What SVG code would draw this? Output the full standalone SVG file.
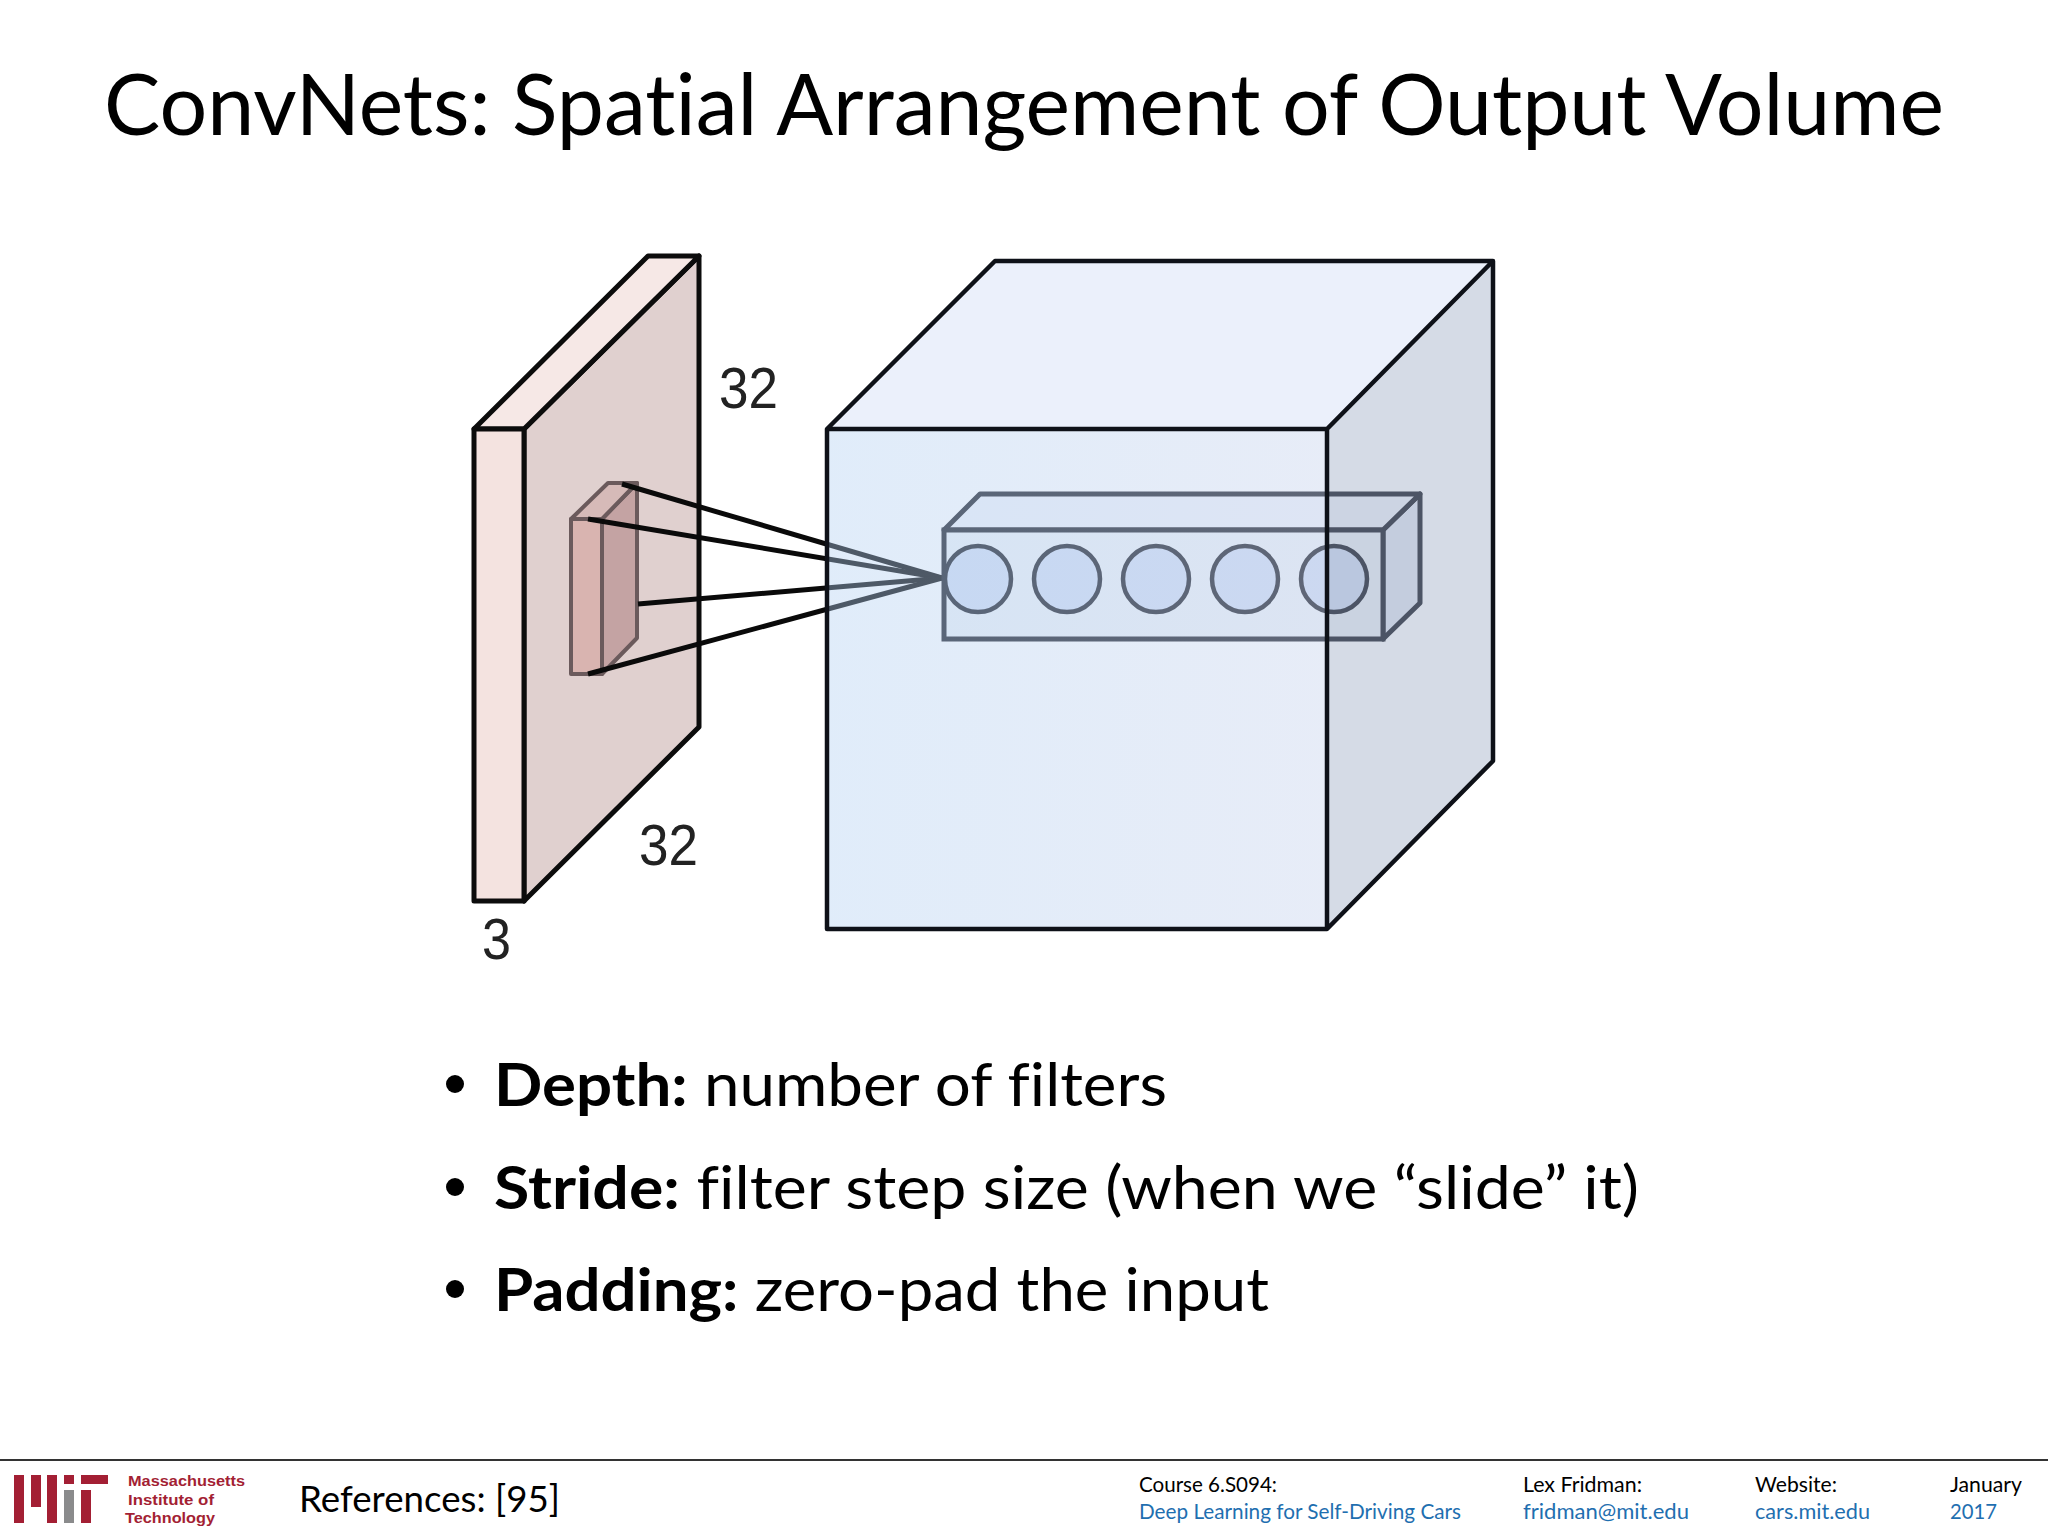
<svg xmlns="http://www.w3.org/2000/svg" width="2048" height="1536" viewBox="0 0 2048 1536">
<style>
.cal{font-family:"Lato","Open Sans",sans-serif;fill:#000;font-variant-ligatures:none}
.num{font-family:"Liberation Sans",Arial,sans-serif;font-size:58px;fill:#222}
.edge{stroke:#0c0c0c;stroke-width:5;stroke-linejoin:round}
.pr{stroke:#6b5a5c;stroke-width:4;stroke-linejoin:round}
.bul{font-size:60px}
.foot{font-size:21.5px}
.blue{fill:#1f6fb0}
.mit{font-family:"Liberation Sans",Arial,sans-serif;font-weight:700;font-size:15.5px;fill:#a31f34}
.logo{fill:#a31f34}
</style>
<defs>
<linearGradient id="frontFill" x1="0" y1="0" x2="1" y2="0">
<stop offset="0" stop-color="rgb(178,208,242)"/>
<stop offset="1" stop-color="rgb(195,208,236)"/>
</linearGradient>
</defs>
<rect width="2048" height="1536" fill="#fff"/>
<text id="title" class="cal" x="104" y="135" font-size="86" textLength="1840" lengthAdjust="spacingAndGlyphs">ConvNets: Spatial Arrangement of Output Volume</text>

<g id="input-volume">
<polygon points="524,429 699,256 699,727 524,901" fill="#e0d0cf" class="edge"/>
<polygon points="474,429 648,256 699,256 524,429" fill="#f6e8e6" class="edge"/>
<rect x="474" y="429" width="50" height="472" fill="#f4e3e0" class="edge"/>
</g>
<g id="receptive-field">
<polygon points="602,519 637,483 637,638 602,674" fill="#c4a3a3" class="pr"/>
<polygon points="571,519 608,483 637,483 602,519" fill="#d6bab8" class="pr"/>
<rect x="571" y="519" width="31" height="155" fill="#d9b4b0" class="pr"/>
</g>
<g id="connectors" fill="none" stroke="#0a0a0a" stroke-width="5">
<line x1="622" y1="484" x2="942" y2="578"/>
<line x1="588" y1="519" x2="942" y2="578"/>
<line x1="638" y1="604" x2="942" y2="578"/>
<line x1="588" y1="674" x2="942" y2="578"/>
</g>
<g id="neuron-column">
<polygon points="1383,530 1420,494 1420,603 1383,639" fill="#e3e8f2" stroke="#1c1f28" stroke-width="5" stroke-linejoin="round"/>
<polygon points="944,530 980,494 1420,494 1383,530" fill="#f0f3fa" stroke="#1c1f28" stroke-width="5" stroke-linejoin="round"/>
<rect x="944" y="530" width="439" height="109" fill="#edf2f7" stroke="#1c1f28" stroke-width="5"/>
<g fill="#d2def4" stroke="#1c1f28" stroke-width="4.5">
<circle id="n1" cx="978" cy="579" r="33"/>
<circle id="n2" cx="1067" cy="579" r="33"/>
<circle id="n3" cx="1156" cy="579" r="33"/>
<circle id="n4" cx="1245" cy="579" r="33"/>
<circle id="n5" cx="1334" cy="579" r="33"/>
</g>
</g>
<g id="output-volume">
<polygon points="827,429 995,261 1493,261 1327,429" fill="rgb(205,217,245)" fill-opacity=".4"/>
<polygon points="1327,429 1493,261 1493,761 1327,929" fill="rgb(150,165,192)" fill-opacity=".4"/>
<rect x="827" y="429" width="500" height="500" fill="url(#frontFill)" fill-opacity=".4"/>
<path d="M827,429 L995,261 H1493 V761 L1327,929 H827 Z M827,429 H1327 V929 M1327,429 L1493,261" fill="none" stroke="#0e1118" stroke-width="4.5" stroke-linejoin="round"/>
</g>
<g id="dimension-labels">
<text class="num" x="719" y="408" textLength="59" lengthAdjust="spacingAndGlyphs">32</text>
<text class="num" x="639" y="865" textLength="59" lengthAdjust="spacingAndGlyphs">32</text>
<text class="num" x="482" y="959" textLength="29" lengthAdjust="spacingAndGlyphs">3</text>
</g>
<g id="bullets">
<circle cx="455" cy="1084" r="9" fill="#000"/>
<circle cx="455" cy="1187" r="9" fill="#000"/>
<circle cx="455" cy="1289" r="9" fill="#000"/>
<text class="cal bul" x="494" y="1106" textLength="673" lengthAdjust="spacingAndGlyphs"><tspan font-weight="700">Depth:</tspan> number of filters</text>
<text class="cal bul" x="494" y="1209" textLength="1145" lengthAdjust="spacingAndGlyphs"><tspan font-weight="700">Stride:</tspan> filter step size (when we “slide” it)</text>
<text class="cal bul" x="494" y="1311" textLength="775" lengthAdjust="spacingAndGlyphs"><tspan font-weight="700">Padding:</tspan> zero-pad the input</text>
</g>
<g id="footer">
<line x1="0" y1="1460" x2="2048" y2="1460" stroke="#333" stroke-width="2"/>
<g class="logo">
<rect x="14" y="1475" width="10" height="48"/>
<rect x="31" y="1475" width="10" height="32"/>
<rect x="47" y="1475" width="10" height="48"/>
<rect x="64" y="1475" width="10" height="9"/>
<rect x="64" y="1490" width="10" height="33" fill="#8a8b8c"/>
<rect x="81" y="1475" width="27" height="9"/>
<rect x="81" y="1490" width="10" height="33"/>
</g>
<text class="mit" x="128" y="1486" textLength="117" lengthAdjust="spacingAndGlyphs">Massachusetts</text>
<text class="mit" x="128" y="1505" textLength="86" lengthAdjust="spacingAndGlyphs">Institute of</text>
<text class="mit" x="125" y="1523" textLength="90" lengthAdjust="spacingAndGlyphs">Technology</text>
<text class="cal" x="299" y="1512" font-size="37" textLength="261" lengthAdjust="spacingAndGlyphs">References: [95]</text>
<text class="cal foot" x="1139" y="1492" textLength="138" lengthAdjust="spacingAndGlyphs">Course 6.S094:</text>
<text class="cal foot blue" x="1139" y="1519" textLength="322" lengthAdjust="spacingAndGlyphs">Deep Learning for Self-Driving Cars</text>
<text class="cal foot" x="1523" y="1492" textLength="119" lengthAdjust="spacingAndGlyphs">Lex Fridman:</text>
<text class="cal foot blue" x="1523" y="1519" textLength="166" lengthAdjust="spacingAndGlyphs">fridman@mit.edu</text>
<text class="cal foot" x="1755" y="1492" textLength="82" lengthAdjust="spacingAndGlyphs">Website:</text>
<text class="cal foot blue" x="1755" y="1519" textLength="115" lengthAdjust="spacingAndGlyphs">cars.mit.edu</text>
<text class="cal foot" x="1950" y="1492" textLength="72" lengthAdjust="spacingAndGlyphs">January</text>
<text class="cal foot blue" x="1950" y="1519" textLength="47" lengthAdjust="spacingAndGlyphs">2017</text>
</g>
</svg>
